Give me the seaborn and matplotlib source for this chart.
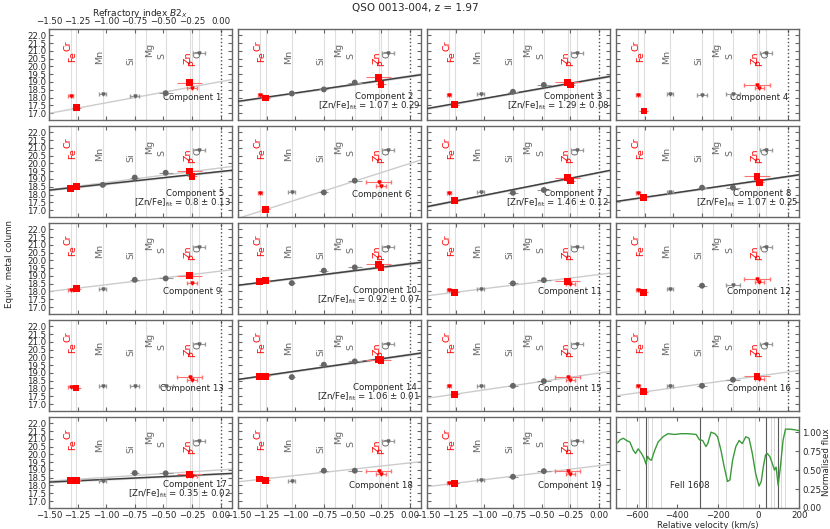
import matplotlib
matplotlib.use('Agg')
import matplotlib.pyplot as plt
import numpy as np
import pandas as pd
import seaborn as sns

# refractory index B2x of each element, and where its name is written
elements = ['Fe', 'Cr', 'Mn', 'Si', 'Mg', 'S', 'Zn', 'P', 'O']
b2x = [-1.26, -1.31, -1.03, -0.75, -0.65, -0.48, -0.27, -0.25, -0.19]
b2x_err = [0.04, 0.02, 0.03, 0.04, 0.04, 0.06, 0.11, 0.04, 0.05]
label_x = [-1.29, -1.33, -1.06, -0.78, -0.62, -0.51, -0.285, -0.245, -0.195]
label_y = [20.62, 21.36, 20.62, 20.34, 21.09, 20.64, 20.55, 20.2, 20.77]
red_elements = ['Fe', 'Cr', 'Zn', 'P']

# column densities per component (1..19), D = detection, L = limit
fe = [17.34, 17.97, 17.55, 17.15, 18.49, 17.04, 17.60, 17.82, 18.19, 18.70,
      17.94, 17.94, 18.00, 18.77, 17.63, 17.79, 18.34, 18.34, 18.13]
cr = [18.13, 18.15, 18.15, 18.15, 18.38, 18.07, 18.07, 18.07, 18.11, 18.65,
      18.11, 18.11, 18.09, 18.77, 18.13, 18.13, 18.34, 18.41, 18.15]
mn = [18.22, 18.26, 18.21, 18.21, 18.62, 18.16, 18.16, 18.16, 18.19, 18.54,
      18.19, 18.19, 18.17, 18.73, 18.17, 18.17, 18.30, 18.30, 18.34]
si = [18.13, 18.52, 18.37, 18.15, 19.09, 18.13, 18.11, 18.44, 18.75, 19.34,
      18.52, 18.37, 18.13, 19.53, 18.17, 18.17, 18.80, 18.95, 18.56]
s = [18.28, 18.96, 18.81, 18.21, 19.40, 18.89, 18.29, 18.44, 18.84, 19.55,
     18.73, 18.43, 18.17, 19.74, 18.47, 18.56, 18.78, 18.95, 18.92]
zn = [18.95, 19.31, 18.98, 18.80, 19.51, 18.78, 19.07, 19.18, 19.01, 19.76,
      18.65, 18.80, 18.73, 19.85, 18.73, 18.77, 18.71, 18.92, 18.92]
p = [18.60, 18.85, 18.81, 18.60, 19.18, 18.56, 18.89, 18.78, 18.54, 19.55,
     18.50, 18.58, 18.56, 19.80, 18.56, 18.60, 18.60, 18.71, 18.71]
o = [20.85, 20.85, 20.85, 20.85, 20.85, 20.85, 20.85, 20.85, 20.85, 20.85,
     20.85, 20.85, 20.85, 20.85, 20.85, 20.85, 20.85, 20.85, 20.85]

fe_kind = 'DDDDDDDDDDDDDDDDDDD'
cr_kind = 'LLLLDLLLLDLLLDLLDDL'
mn_kind = 'LDLLDLLLLDLLLDLLLLL'
si_kind = 'LDDLDDDDDDDDLDDDDDD'
s_kind = 'DDDLDDDDDDDLLDDDDDD'
zn_kind = 'DDDLDLDDDDDLLDLDDLL'
p_kind = 'LDDLDLDDLDLLLDLLLLL'
o_kind = 'LLLLLLLLLLLLLLLLLLL'

# [Zn/Fe] fits (slope) and the column at B2x = 0
zn_fe_fit = [None, 1.07, 1.29, None, 0.8, None, 1.46, 1.07, None, 0.92,
             None, None, None, 1.06, None, None, 0.35, None, None]
zn_fe_err = [None, 0.29, 0.08, None, 0.13, None, 0.12, 0.25, None, 0.07,
             None, None, None, 0.01, None, None, 0.02, None, None]
fit_zero = [None, 19.36, 19.23, None, 19.48, None, 19.41, 19.16, None, 19.78,
            None, None, None, 20.17, None, None, 18.74, None, None]

# lighter reference line
trend_slope = [1.36, 1.12, 1.35, None, 0.94, 2.35, 1.42, 1.10, 0.875, 0.95,
               0.91, None, None, 1.08, 1.08, 1.02, 0.48, 0.81, 0.90]
trend_zero = [19.02, 19.40, 19.27, None, 19.71, 19.99, 19.38, 19.18, 19.31, 19.82,
              19.09, None, None, 20.20, 18.99, 19.06, 19.00, 19.45, 19.27]

# Fe II 1608 profile
vel = [-693, -681, -665, -649, -633, -616, -605, -592, -576, -562,
       -554, -546, -535, -527, -511, -494, -470, -446, -413, -380,
       -348, -307, -291, -275, -259, -250, -234, -215, -202, -185,
       -169, -153, -141, -128, -112, -96, -80, -63, -47, -31,
       -15, 2, 13, 23, 34, 42, 55, 67, 78, 86,
       96, 107, 120, 132, 156, 180, 200]
flux = [0.86, 0.90, 0.92, 0.89, 0.87, 0.76, 0.72, 0.78, 0.72, 0.65,
        0.58, 0.68, 0.64, 0.63, 0.76, 0.87, 0.94, 0.98, 0.97, 0.98,
        0.98, 0.97, 0.90, 0.89, 0.81, 0.85, 1.00, 0.98, 0.94, 0.76,
        0.54, 0.35, 0.37, 0.63, 0.81, 0.89, 0.85, 0.94, 0.92, 0.72,
        0.46, 0.29, 0.35, 0.54, 0.70, 0.72, 0.68, 0.59, 0.50, 0.54,
        0.30, 0.54, 0.89, 1.04, 1.04, 1.03, 1.02]
comp_vel_main = [-555, -287, 37, 94]
comp_vel_minor = [-650, -590, -545, -525, -480, -200, -160, -75, -20, 60, 75, 110, 128]

cols = [fe, cr, mn, si, s, zn, p, o]
kinds = [fe_kind, cr_kind, mn_kind, si_kind, s_kind, zn_kind, p_kind, o_kind]
meas_el = ['Fe', 'Cr', 'Mn', 'Si', 'S', 'Zn', 'P', 'O']
rows = []
for el, col, kind in zip(meas_el, cols, kinds):
    k = elements.index(el)
    for i in range(19):
        rows.append(dict(comp=i + 1, element=el, b2x=b2x[k], err=b2x_err[k],
                         col=col[i], kind=kind[i],
                         group='red' if el in red_elements else 'grey'))
points = pd.DataFrame(rows)

sns.set_style('ticks')
plt.rcParams['font.family'] = ['DejaVu Sans']
plt.rcParams['xtick.direction'] = 'in'
plt.rcParams['ytick.direction'] = 'in'
plt.rcParams['axes.edgecolor'] = '0.4'
plt.rcParams['axes.linewidth'] = 1.0

fig, axes = plt.subplots(5, 4, figsize=(8.3, 5.29), dpi=100)
fig.subplots_adjust(left=0.059, right=0.963, top=0.945, bottom=0.0397,
                    wspace=0.033, hspace=0.066)

fs = 6.2
xlim = (-1.5, 0.1)
ylim = (16.55, 22.4)
xs = np.array(xlim)
pal = {'red': 'red', 'grey': '0.4'}
err_pal = {'red': '#ff7070', 'grey': '0.6'}

for i in range(19):
    n = i + 1
    ax = axes.flat[i]
    for x in b2x:
        ax.axvline(x, color='0.87', lw=0.8, zorder=0)
    ax.axvline(0, color='0.3', ls=':', lw=1, zorder=1)
    for el, x, y in zip(elements, label_x, label_y):
        ax.text(x, y, el, rotation=90, ha='center', va='center', fontsize=6.8,
                color='red' if el in red_elements else '0.4')

    if trend_slope[i] is not None:
        sns.lineplot(x=xs, y=trend_zero[i] + trend_slope[i] * xs, ax=ax,
                     color='0.8', lw=1, zorder=2)
    if zn_fe_fit[i] is not None:
        yfit = fit_zero[i] + zn_fe_fit[i] * xs
        ax.fill_between(xs, yfit - 0.06, yfit + 0.06, color='0.85', lw=0, zorder=2)
        sns.lineplot(x=xs, y=yfit, ax=ax, color='0.25', lw=1.1, zorder=3)

    sub = points[points.comp == n]
    det = sub[sub.kind == 'D']
    lim = sub[sub.kind == 'L']
    for g in ['grey', 'red']:
        d = det[det.group == g]
        ax.errorbar(d.b2x, d.col, xerr=d.err, yerr=0.05, fmt='none',
                    ecolor=err_pal[g], elinewidth=0.8, zorder=4)
        l = lim[lim.group == g]
        ax.errorbar(l.b2x, l.col, xerr=l.err, fmt='v', ms=2.2, color=pal[g],
                    ecolor=err_pal[g], capsize=1.5, elinewidth=0.8, zorder=4)
    sns.scatterplot(data=det, x='b2x', y='col', hue='group', style='group',
                    palette=pal, markers={'red': 's', 'grey': 'o'},
                    size='group', sizes={'red': 24, 'grey': 18},
                    linewidth=0, legend=False, ax=ax, zorder=5)

    if zn_fe_fit[i] is not None:
        ax.text(-0.22, 18.05, f'Component {n}', ha='center', va='center', fontsize=fs)
        ax.text(0.09, 17.45, '[Zn/Fe]$_{\\rm fit}$ = ' + f'{zn_fe_fit[i]} ± {zn_fe_err[i]}',
                ha='right', va='center', fontsize=fs)
    else:
        ax.text(-0.25, 17.98, f'Component {n}', ha='center', va='center', fontsize=fs)

    ax.set_xlim(xlim)
    ax.set_ylim(ylim)
    ax.set_xticks([-1.5, -1.25, -1.0, -0.75, -0.5, -0.25, 0.0])
    ax.set_yticks(np.arange(17.0, 22.01, 0.5))
    ax.set_xlabel('')
    ax.set_ylabel('')
    ax.tick_params(top=True, right=True, labelsize=fs, length=3, color='0.4', pad=2,
                   labelleft=(i % 4 == 0), labelbottom=(i >= 16), labeltop=(i == 0))

axes.flat[0].xaxis.set_label_position('top')
axes.flat[0].set_xlabel('Refractory index $B2_X$', fontsize=fs + 0.3, labelpad=1)

# spectrum panel
ax = axes.flat[19]
for v in comp_vel_minor:
    ax.axvline(v, color='0.85', lw=0.7, zorder=0)
for v in comp_vel_main:
    ax.axvline(v, color='0.35', lw=0.8, zorder=1)
sns.lineplot(x=vel, y=flux, ax=ax, color='#3a9a3a', lw=1, estimator=None, sort=False, zorder=3)
ax.text(-340, 0.3, 'FeII 1608', ha='center', va='center', fontsize=fs)
ax.set_xlim(-700, 200)
ax.set_ylim(0, 1.2)
ax.set_xticks([-600, -400, -200, 0, 200])
ax.set_yticks([0, 0.25, 0.5, 0.75, 1.0])
ax.yaxis.tick_right()
ax.yaxis.set_label_position('right')
ax.tick_params(top=True, left=True, right=True, labelsize=fs, length=3, color='0.4', pad=2,
               labelleft=False, labelright=True)
ax.set_xlabel('Relative velocity (km/s)', fontsize=fs, labelpad=1)
ax.set_ylabel('Normalised flux', fontsize=fs, labelpad=0.5)

fig.suptitle('QSO 0013-004, z = 1.97', y=0.995, fontsize=7.5)
fig.text(0.006, 0.5, 'Equiv. metal column', rotation=90, va='center', ha='left', fontsize=fs)

plt.savefig('out.png', dpi=100)
